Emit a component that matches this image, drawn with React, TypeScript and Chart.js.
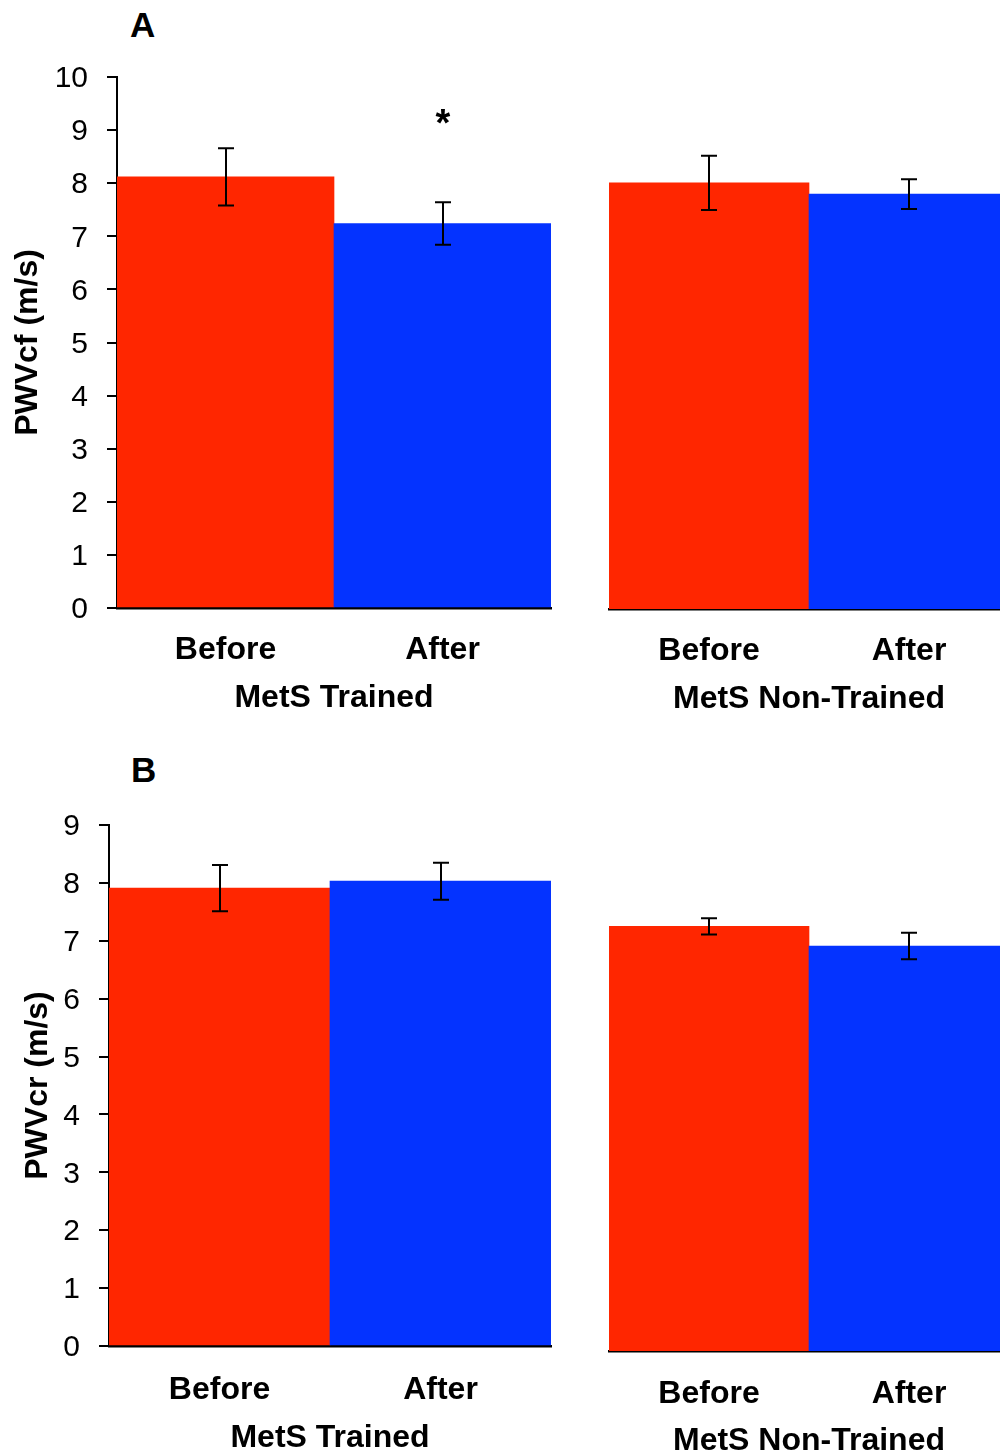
import React, { useEffect, useRef } from 'react';
import { Chart, registerables } from 'chart.js';

Chart.register(...registerables);

// ---------- data ----------
const categories = ['Before', 'After'];
const groupTrained = 'MetS Trained';
const groupNonTrained = 'MetS Non-Trained';

const pwvcfTrained = [8.12, 7.24];
const pwvcfTrainedErr = [0.54, 0.4];
const pwvcfNonTrained = [8.01, 7.8];
const pwvcfNonTrainedErr = [0.51, 0.28];

const pwvcrTrained = [7.91, 8.03];
const pwvcrTrainedErr = [0.4, 0.32];
const pwvcrNonTrained = [7.35, 7.01];
const pwvcrNonTrainedErr = [0.14, 0.23];

const pwvcfMax = 10;
const pwvcrMax = 9;
// significance marks ('*') placed at a value on the y scale, per bar
const pwvcfTrainedStars = [null, 9.25];

const barColors = ['#FF2600', '#0433FF'];

// ---------- styling ----------
const FONT = "'Liberation Sans', Arial, Helvetica, sans-serif";
const TICK_SIZE = 30;
const LABEL_SIZE = 32;
const YTITLE_SIZE = 32;
const lh = (s: number) => s * 1.2;

type Box = { left: number; top: number; width: number; height: number };
type Area = { left: number; top: number; right: number; bottom: number };

type PanelProps = {
  box: Box;
  area: Area;
  labelY: number;
  titleY: number;
  yMax: number;
  values: number[];
  errors: number[];
  group: string;
  showY: boolean;
  yTitle?: string;
  yTitleX?: number;
  stars?: (number | null)[];
};

function Panel(props: PanelProps) {
  const ref = useRef<HTMLCanvasElement | null>(null);
  useEffect(() => {
    const { box, area, labelY, titleY, yMax, values, errors, group, showY, yTitle, yTitleX, stars } = props;
    const canvas = ref.current;
    if (!canvas) return;

    const errorBars = {
      id: 'errorBars',
      afterDatasetsDraw(chart: any) {
        const ctx = chart.ctx;
        const yScale = chart.scales.y;
        const meta = chart.getDatasetMeta(0);
        ctx.save();
        ctx.strokeStyle = '#000';
        ctx.lineWidth = 2;
        meta.data.forEach((el: any, i: number) => {
          const v = values[i];
          const e = errors[i];
          const x = Math.round(el.x);
          const yt = yScale.getPixelForValue(v + e);
          const yb = yScale.getPixelForValue(v - e);
          ctx.beginPath();
          ctx.moveTo(x, yt);
          ctx.lineTo(x, yb);
          ctx.moveTo(x - 8, yt);
          ctx.lineTo(x + 8, yt);
          ctx.moveTo(x - 8, yb);
          ctx.lineTo(x + 8, yb);
          ctx.stroke();
          const s = stars ? stars[i] : null;
          if (s != null) {
            ctx.fillStyle = '#000';
            ctx.font = `bold 38px ${FONT}`;
            ctx.textAlign = 'center';
            ctx.textBaseline = 'middle';
            ctx.fillText('*', x, yScale.getPixelForValue(s) + 9);
          }
        });
        ctx.restore();
      },
    };

    const chart = new Chart(canvas, {
      type: 'bar',
      data: {
        labels: categories,
        datasets: [
          {
            data: values,
            backgroundColor: barColors,
            borderWidth: 0,
            barPercentage: 1,
            categoryPercentage: 1,
          },
        ],
      },
      options: {
        responsive: false,
        maintainAspectRatio: false,
        animation: false,
        layout: {
          padding: {
            top: area.top - box.top,
            right: box.left + box.width - area.right,
            bottom: 0,
            left: showY ? 0 : area.left - box.left,
          },
        },
        plugins: { legend: { display: false }, tooltip: { enabled: false } },
        scales: {
          x: {
            type: 'category',
            offset: true,
            grid: { display: true, drawOnChartArea: false, drawTicks: false },
            border: { display: true, color: '#000', width: 2.5 },
            ticks: {
              color: '#000',
              font: { family: FONT, size: LABEL_SIZE, weight: 'bold' },
              padding: labelY - area.bottom - lh(LABEL_SIZE) / 2 + 2,
              maxRotation: 0,
              autoSkip: false,
            },
            title: {
              display: true,
              text: group,
              color: '#000',
              font: { family: FONT, size: LABEL_SIZE, weight: 'bold' },
              padding: { top: 0, bottom: box.top + box.height - titleY - lh(LABEL_SIZE) / 2 - 2 },
            },
            afterFit: (s: any) => {
              s.height = box.top + box.height - area.bottom;
            },
          },
          y: {
            display: showY,
            min: 0,
            max: yMax,
            ticks: {
              stepSize: 1,
              color: '#000',
              font: { family: FONT, size: TICK_SIZE },
              padding: 19,
              labelOffset: 2,
            },
            grid: { drawOnChartArea: false, drawTicks: true, tickLength: 10, color: '#000', lineWidth: 2 },
            border: { display: true, color: '#000', width: 2 },
            title: {
              display: !!yTitle,
              text: yTitle || '',
              color: '#000',
              font: { family: FONT, size: YTITLE_SIZE, weight: 'bold' },
              padding: { top: (yTitleX || 0) - box.left - lh(YTITLE_SIZE) / 2, bottom: 0 },
            },
            afterFit: (s: any) => {
              if (showY) s.width = area.left - box.left;
            },
          },
        },
      },
      plugins: [errorBars],
    } as any);
    return () => chart.destroy();
  }, []);

  const { box } = props;
  return (
    <canvas
      ref={ref}
      width={box.width}
      height={box.height}
      style={{ position: 'absolute', left: box.left, top: box.top, width: box.width, height: box.height }}
    />
  );
}

const letterStyle: React.CSSProperties = {
  position: 'absolute',
  fontFamily: FONT,
  fontWeight: 'bold',
  fontSize: 35,
  lineHeight: '35px',
  color: '#000',
};

export default function App() {
  return (
    <div
      style={{
        position: 'absolute',
        left: 0,
        top: 0,
        width: 1000,
        height: 1455,
        overflow: 'hidden',
        background: '#fff',
      }}
    >
      <div style={{ ...letterStyle, left: 130, top: 7 }}>A</div>
      <div style={{ ...letterStyle, left: 131, top: 752 }}>B</div>

      <Panel
        box={{ left: 0, top: 0, width: 570, height: 740 }}
        area={{ left: 117, top: 77, right: 551, bottom: 608 }}
        labelY={648}
        titleY={696}
        yMax={pwvcfMax}
        values={pwvcfTrained}
        errors={pwvcfTrainedErr}
        group={groupTrained}
        showY={true}
        yTitle="PWVcf (m/s)"
        yTitleX={28}
        stars={pwvcfTrainedStars}
      />
      <Panel
        box={{ left: 590, top: 0, width: 430, height: 740 }}
        area={{ left: 609, top: 77, right: 1009, bottom: 609 }}
        labelY={649}
        titleY={697}
        yMax={pwvcfMax}
        values={pwvcfNonTrained}
        errors={pwvcfNonTrainedErr}
        group={groupNonTrained}
        showY={false}
      />
      <Panel
        box={{ left: 0, top: 760, width: 570, height: 720 }}
        area={{ left: 109, top: 825, right: 551, bottom: 1346 }}
        labelY={1388}
        titleY={1436}
        yMax={pwvcrMax}
        values={pwvcrTrained}
        errors={pwvcrTrainedErr}
        group={groupTrained}
        showY={true}
        yTitle="PWVcr (m/s)"
        yTitleX={38}
      />
      <Panel
        box={{ left: 590, top: 760, width: 430, height: 720 }}
        area={{ left: 609, top: 831, right: 1009, bottom: 1351 }}
        labelY={1392}
        titleY={1439}
        yMax={pwvcrMax}
        values={pwvcrNonTrained}
        errors={pwvcrNonTrainedErr}
        group={groupNonTrained}
        showY={false}
      />
    </div>
  );
}
